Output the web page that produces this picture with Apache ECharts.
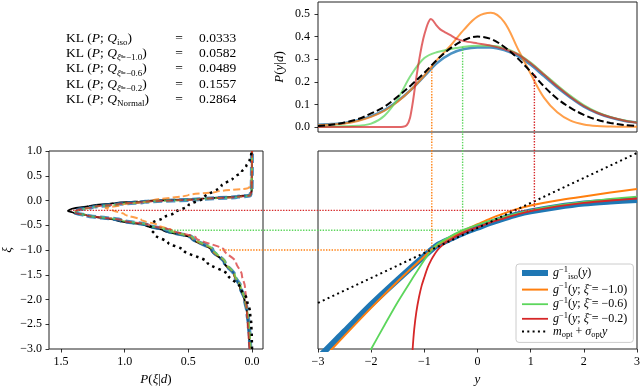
<!DOCTYPE html>
<html>
<head>
<meta charset="utf-8" />
<title>g inverse</title>
<script src="https://cdn.jsdelivr.net/npm/echarts@6/dist/echarts.min.js"></script>
<style>html,body{margin:0;padding:0;background:#fff;}</style>
</head>
<body>
<div id="main" style="width:640px;height:386px;"></div>
<script type="text/javascript">
// ---- top panel: P(y|d) ----
var yTop = [-3,-2.75,-2.5,-2.25,-2,-1.75,-1.5,-1.25,-1,-0.75,-0.5,-0.25,0,0.25,0.5,0.75,1,1.25,1.5,1.75,2,2.25,2.5,2.75,3];
var pIso = [0.010,0.013,0.018,0.030,0.048,0.075,0.115,0.165,0.225,0.285,0.325,0.345,0.352,0.352,0.340,0.315,0.275,0.225,0.175,0.130,0.090,0.062,0.042,0.028,0.020];
var pXi10 = [0.008,0.011,0.016,0.027,0.045,0.072,0.112,0.165,0.228,0.300,0.362,0.432,0.488,0.505,0.465,0.350,0.235,0.130,0.065,0.028,0.011,0.004,0.002,0.001,0.001];
var pXi06 = [0.001,0.002,0.003,0.006,0.015,0.050,0.125,0.230,0.305,0.332,0.345,0.355,0.360,0.360,0.350,0.325,0.285,0.235,0.185,0.138,0.097,0.066,0.045,0.030,0.020];
var pNormal = [0.005,0.010,0.020,0.035,0.060,0.090,0.135,0.185,0.240,0.300,0.350,0.385,0.400,0.390,0.355,0.305,0.245,0.180,0.125,0.085,0.054,0.032,0.018,0.009,0.005];
var yTopRed = [-3,-2,-1.5,-1.4,-1.33,-1.27,-1.21,-1.15,-1.08,-1.02,-0.96,-0.92,-0.88,-0.84,-0.78,-0.7,-0.6,-0.5,-0.39,-0.25,0,0.25,0.5,0.75,1,1.25,1.5,1.75,2,2.25,2.5,2.75,3];
var pXi02 = [0,0,0,0.001,0.008,0.04,0.12,0.22,0.32,0.39,0.44,0.465,0.478,0.472,0.452,0.432,0.418,0.405,0.39,0.38,0.37,0.36,0.345,0.322,0.282,0.232,0.18,0.133,0.093,0.063,0.043,0.029,0.019];

// ---- bottom right: g^-1(y) ----
var yIso = [-3.2,-3,-2.5,-2,-1.5,-1,-0.75,-0.5,-0.25,0,0.25,0.5,0.75,1,1.5,2,2.5,3];
var gIso = [-3.38,-3.18,-2.64,-2.1,-1.6,-1.12,-0.9,-0.77,-0.65,-0.55,-0.45,-0.36,-0.28,-0.22,-0.13,-0.06,-0.02,0.01];
var yG10 = [-3.1,-3,-2.5,-2,-1.5,-1,-0.75,-0.5,-0.25,0,0.25,0.5,0.75,1,1.5,2,2.5,3];
var gXi10 = [-3.42,-3.3,-2.73,-2.17,-1.63,-1.13,-0.9,-0.74,-0.6,-0.48,-0.36,-0.26,-0.17,-0.1,0.0,0.08,0.16,0.23];
var yG06 = [-2.2,-2,-1.75,-1.5,-1.25,-1,-0.86,-0.75,-0.5,-0.28,0,0.5,1,1.5,2,2.5,3];
var gXi06 = [-3.4,-3.0,-2.52,-2.05,-1.62,-1.2,-1.0,-0.88,-0.72,-0.6,-0.49,-0.33,-0.2,-0.1,-0.03,0.03,0.08];
var yG02 = [-1.235,-1.22,-1.19,-1.15,-1.1,-1.05,-1.0,-0.94,-0.87,-0.81,-0.75,-0.69,-0.6,-0.5,-0.4,-0.28,-0.1,0,0.25,0.5,0.75,1.07,1.5,2,2.5,3];
var gXi02 = [-3.3,-3.0,-2.6,-2.25,-1.95,-1.72,-1.55,-1.36,-1.2,-1.09,-1.0,-0.93,-0.85,-0.79,-0.72,-0.66,-0.58,-0.54,-0.44,-0.36,-0.28,-0.2,-0.12,-0.05,0.0,0.04];
var yLin = [-3, 3];
var gLin = [-2.07, 0.96];

// ---- bottom left: P(xi|d) ----
var xiTrue = [-3,-2.75,-2.5,-2.25,-2,-1.75,-1.5,-1.25,-1,-0.75,-0.6,-0.5,-0.4,-0.3,-0.25,-0.21,-0.17,-0.11,-0.05,-0.02,0.04,0.08,0.11,0.2,0.6,1.0];
var pTrue = [0.016,0.022,0.03,0.04,0.06,0.095,0.14,0.22,0.32,0.48,0.7,0.84,1.07,1.3,1.4,1.445,1.42,1.28,1.08,0.89,0.37,0.12,0.01,0.003,0.001,0];
var xiQ = [-3,-2.75,-2.5,-2.25,-2,-1.75,-1.5,-1.25,-1,-0.75,-0.6,-0.5,-0.4,-0.3,-0.26,-0.23,-0.19,-0.13,-0.07,-0.03,0.03,0.07,0.1,0.2,0.6,1.0];
var pQiso = [0.012,0.018,0.026,0.038,0.056,0.09,0.14,0.215,0.31,0.47,0.67,0.82,1.03,1.3,1.38,1.4,1.37,1.25,1.05,0.85,0.4,0.12,0.015,0.003,0.001,0];
var pQ06 = [0.01,0.016,0.024,0.036,0.055,0.088,0.135,0.21,0.3,0.46,0.66,0.81,1.02,1.3,1.37,1.39,1.36,1.24,1.04,0.84,0.4,0.12,0.015,0.003,0.001,0];
var pQ02 = [0.02,0.027,0.034,0.04,0.046,0.055,0.08,0.125,0.22,0.44,0.63,0.8,1.02,1.3,1.38,1.4,1.37,1.25,1.05,0.85,0.4,0.12,0.015,0.003,0.001,0];
var xiQ10 = [-3,-2.75,-2.5,-2.25,-2,-1.75,-1.5,-1.25,-1,-0.75,-0.6,-0.5,-0.39,-0.28,-0.19,-0.15,-0.09,0.0,0.11,0.18,0.25,0.3,0.6,1.0];
var pQ10 = [0.012,0.018,0.026,0.038,0.056,0.09,0.14,0.21,0.31,0.47,0.63,0.74,0.87,1.0,1.1,1.15,1.02,0.78,0.5,0.27,0.03,0.005,0.001,0];
var xiQn = [-3,-2.75,-2.5,-2.25,-2,-1.75,-1.5,-1.25,-1,-0.85,-0.7,-0.56,-0.45,-0.35,-0.25,-0.1,0.05,0.3,0.45,0.58,0.7,0.8,0.9,1.0];
var pQn = [0,0.002,0.006,0.016,0.04,0.095,0.19,0.35,0.54,0.66,0.76,0.8,0.78,0.7,0.61,0.5,0.38,0.24,0.15,0.08,0.045,0.02,0.008,0.002];

// KL table
var klSub = ['{s|iso}', '{si|ξ̄}{s|=−1.0}', '{si|ξ̄}{s|=−0.6}', '{si|ξ̄}{s|=−0.2}', '{s|Normal}'];
var klValues = ['0.0333', '0.0582', '0.0489', '0.1557', '0.2864'];

// dotted guides
var guideY = [-0.86, -0.28, 1.07];
var guideTopP = [0.27, 0.355, 0.235];
var guideXi = [-1.0, -0.6, -0.2];
var guideLeftP = [0.26, 0.67, 1.42];
var guideColors = ['#ff7f0e', '#5cd65c', '#d62728'];

var serif = '"Liberation Serif", "DejaVu Serif", serif';
var C = { blue: '#1f77b4', orange: '#ff7f0e', green: '#5cd65c', red: '#d62728' };

function pairs(xs, ys) { return xs.map(function (x, i) { return [x, ys[i]]; }); }
function minus(s) { return String(s).replace('-', '\u2212'); }

var mathRich = {
  i: { fontFamily: serif, fontStyle: 'italic', fontSize: 13, lineHeight: 16, color: '#000' },
  r: { fontFamily: serif, fontSize: 13, lineHeight: 16, color: '#000' }
};
var legRich = {
  i: { fontFamily: serif, fontStyle: 'italic', fontSize: 12, lineHeight: 16, color: '#000' },
  r: { fontFamily: serif, fontSize: 12, lineHeight: 16, color: '#000' },
  sup: { fontFamily: serif, fontSize: 8.5, lineHeight: 9, verticalAlign: 'top', color: '#000' },
  sub: { fontFamily: serif, fontSize: 8.5, lineHeight: 8, verticalAlign: 'bottom', color: '#000' }
};
var legendText = {
  gIso: '{i|g}{sup|−1}{sub|iso}{r|(}{i|y}{r|)}',
  g10: '{i|g}{sup|−1}{r|(}{i|y}{r|; }{i|ξ̄}{r| = −1.0)}',
  g06: '{i|g}{sup|−1}{r|(}{i|y}{r|; }{i|ξ̄}{r| = −0.6)}',
  g02: '{i|g}{sup|−1}{r|(}{i|y}{r|; }{i|ξ̄}{r| = −0.2)}',
  lin: '{i|m}{sub|opt}{r| + }{i|σ}{sub|opt}{i|y}'
};

var tickLabel = { fontFamily: serif, fontSize: 12, color: '#000' };
var tick = { show: true, length: 3.5, lineStyle: { color: '#000', width: 0.8 } };
var noLine = { show: false, onZero: false };
var base = { type: 'line', symbol: 'none', showSymbol: false, animation: false, silent: true };

function curve(opt) {
  var s = Object.assign({}, base, opt);
  s.itemStyle = { color: opt.lineStyle.color };
  s.color = opt.lineStyle.color;
  return s;
}

var kl = [];
klSub.forEach(function (sub, i) {
  var y = 38 + i * 15.4;
  kl.push({ type: 'text', id: 'kl' + i, x: 66, y: y, style: {
    text: '{r|KL (}{i|P}{r|; }{i|Q}' + sub + '{r|)}',
    verticalAlign: 'middle',
    rich: {
      r: { fontFamily: serif, fontSize: 13.5, lineHeight: 18 },
      i: { fontFamily: serif, fontSize: 13.5, fontStyle: 'italic', lineHeight: 18 },
      s: { fontFamily: serif, fontSize: 9, lineHeight: 9, verticalAlign: 'bottom' },
      si: { fontFamily: serif, fontSize: 9, fontStyle: 'italic', lineHeight: 9, verticalAlign: 'bottom' }
    }
  } });
  kl.push({ type: 'text', id: 'eq' + i, x: 179, y: y, style: { text: '=', font: '13.5px ' + serif, align: 'center', verticalAlign: 'middle' } });
  kl.push({ type: 'text', id: 'kv' + i, x: 199, y: y, style: { text: klValues[i], font: '13.5px ' + serif, verticalAlign: 'middle' } });
});

var chart = echarts.init(document.getElementById('main'));

var option = {
  backgroundColor: '#fff',
  animation: false,
  grid: [
    { left: 318, top: 2, width: 319, height: 130, show: true, borderColor: '#222', borderWidth: 1, outerBoundsMode: 'none' },
    { left: 318, top: 151, width: 319, height: 198, show: true, borderColor: '#222', borderWidth: 1, outerBoundsMode: 'none' },
    { left: 49, top: 151, width: 214, height: 198, show: true, borderColor: '#222', borderWidth: 1, outerBoundsMode: 'none' }
  ],
  xAxis: [
    { type: 'value', gridIndex: 0, min: -3, max: 3, axisLine: noLine, axisTick: { show: false }, axisLabel: { show: false }, splitLine: { show: false } },
    { type: 'value', gridIndex: 1, min: -3, max: 3, interval: 1, position: 'bottom', axisLine: noLine, axisTick: tick, splitLine: { show: false },
      axisLabel: Object.assign({ margin: 7, formatter: function (v) { return minus(v); } }, tickLabel),
      name: '{i|y}', nameLocation: 'middle', nameGap: 22, nameTextStyle: { rich: mathRich } },
    { type: 'value', gridIndex: 2, min: -0.086, max: 1.594, inverse: true, position: 'bottom', axisLine: noLine, splitLine: { show: false },
      axisTick: Object.assign({ customValues: [0, 0.5, 1, 1.5] }, tick),
      axisLabel: Object.assign({ margin: 7, customValues: [0, 0.5, 1, 1.5], formatter: function (v) { return v.toFixed(1); } }, tickLabel),
      name: '{i|P}{r|(}{i|ξ}{r||}{i|d}{r|)}', nameLocation: 'middle', nameGap: 22, nameTextStyle: { rich: mathRich } }
  ],
  yAxis: [
    { type: 'value', gridIndex: 0, min: -0.022, max: 0.553, position: 'left', axisLine: noLine, splitLine: { show: false },
      axisTick: Object.assign({ customValues: [0, 0.1, 0.2, 0.3, 0.4, 0.5] }, tick),
      axisLabel: Object.assign({ margin: 8, customValues: [0, 0.1, 0.2, 0.3, 0.4, 0.5], formatter: function (v) { return v.toFixed(1); } }, tickLabel),
      name: '{i|P}{r|(}{i|y}{r||}{i|d}{r|)}', nameLocation: 'middle', nameGap: 30, nameRotate: 90, nameTextStyle: { rich: mathRich } },
    { type: 'value', gridIndex: 1, min: -3, max: 1, axisLine: noLine, axisTick: { show: false }, axisLabel: { show: false }, splitLine: { show: false } },
    { type: 'value', gridIndex: 2, min: -3, max: 1, interval: 0.5, position: 'left', axisLine: noLine, splitLine: { show: false }, axisTick: tick,
      axisLabel: Object.assign({ margin: 7, formatter: function (v) { return minus(v.toFixed(1)); } }, tickLabel),
      name: '{i|ξ}', nameLocation: 'middle', nameGap: 33, nameRotate: 90, nameTextStyle: { rich: mathRich } }
  ],
  legend: {
    data: ['gIso', 'g10', 'g06', 'g02', 'lin'],
    orient: 'vertical', left: 516, top: 264,
    itemWidth: 26, itemHeight: 10, itemGap: 0.6,
    padding: [1, 6, 3, 3],
    backgroundColor: 'rgba(255,255,255,0.85)', borderColor: '#ccc', borderWidth: 1, borderRadius: 3,
    selectedMode: false,
    itemStyle: { opacity: 0 },
    lineStyle: { width: 'inherit', opacity: 1 },
    formatter: function (name) { return legendText[name]; },
    textStyle: { fontFamily: serif, fontSize: 12, color: '#000', rich: legRich }
  },
  graphic: kl,
  series: [
    // top
    curve({ xAxisIndex: 0, yAxisIndex: 0, data: pairs(yTop, pIso), smooth: 0.35, lineStyle: { color: C.blue, width: 2.5, opacity: 0.8 } }),
    curve({ xAxisIndex: 0, yAxisIndex: 0, data: pairs(yTop, pXi10), smooth: 0.35, lineStyle: { color: C.orange, width: 2, opacity: 0.75 } }),
    curve({ xAxisIndex: 0, yAxisIndex: 0, data: pairs(yTop, pXi06), smooth: 0.35, lineStyle: { color: C.green, width: 2, opacity: 0.75 } }),
    curve({ xAxisIndex: 0, yAxisIndex: 0, data: pairs(yTopRed, pXi02), smooth: 0.25, lineStyle: { color: C.red, width: 2, opacity: 0.7 } }),
    curve({ xAxisIndex: 0, yAxisIndex: 0, data: pairs(yTop, pNormal), smooth: 0.35, lineStyle: { color: '#000', width: 2, type: [7, 3.2] } }),
    // bottom right
    curve({ name: 'gIso', xAxisIndex: 1, yAxisIndex: 1, data: pairs(yIso, gIso), smooth: 0.3, lineStyle: { color: C.blue, width: 6 } }),
    curve({ name: 'g10', xAxisIndex: 1, yAxisIndex: 1, data: pairs(yG10, gXi10), smooth: 0.3, lineStyle: { color: C.orange, width: 2 } }),
    curve({ name: 'g06', xAxisIndex: 1, yAxisIndex: 1, data: pairs(yG06, gXi06), smooth: 0.3, lineStyle: { color: C.green, width: 1.8 } }),
    curve({ name: 'g02', xAxisIndex: 1, yAxisIndex: 1, data: pairs(yG02, gXi02), smooth: 0.25, lineStyle: { color: C.red, width: 1.8 } }),
    curve({ name: 'lin', xAxisIndex: 1, yAxisIndex: 1, data: pairs(yLin, gLin), lineStyle: { color: '#000', width: 2, type: [2, 3.3] } }),
    // bottom left
    curve({ xAxisIndex: 2, yAxisIndex: 2, data: pairs(pTrue, xiTrue), smooth: 0.3, smoothMonotone: 'y', lineStyle: { color: '#000', width: 2 } }),
    curve({ xAxisIndex: 2, yAxisIndex: 2, data: pairs(pQiso, xiQ), smooth: 0.3, smoothMonotone: 'y', lineStyle: { color: C.blue, width: 4, type: [9, 4], opacity: 0.8 } }),
    curve({ xAxisIndex: 2, yAxisIndex: 2, data: pairs(pQ10, xiQ10), smooth: 0.3, smoothMonotone: 'y', lineStyle: { color: C.orange, width: 2, type: [7, 3.2], opacity: 0.75 } }),
    curve({ xAxisIndex: 2, yAxisIndex: 2, data: pairs(pQ06, xiQ), smooth: 0.3, smoothMonotone: 'y', lineStyle: { color: C.green, width: 2, type: [7, 3.2], opacity: 0.75 } }),
    curve({ xAxisIndex: 2, yAxisIndex: 2, data: pairs(pQ02, xiQ), smooth: 0.3, smoothMonotone: 'y', lineStyle: { color: C.red, width: 2, type: [7, 3.2], opacity: 0.7 } }),
    curve({ xAxisIndex: 2, yAxisIndex: 2, data: pairs(pQn, xiQn), smooth: 0.3, smoothMonotone: 'y', lineStyle: { color: '#000', width: 2.5, type: [2.5, 4] } })
  ]
};

chart.setOption(option);

// guide lines go across panels, so place them from each grid's own scale
var guides = guideY.map(function (gy, i) {
  var a = chart.convertToPixel({ gridIndex: 0 }, [gy, guideTopP[i]]);
  var b = chart.convertToPixel({ gridIndex: 1 }, [gy, guideXi[i]]);
  var c = chart.convertToPixel({ gridIndex: 2 }, [guideLeftP[i], guideXi[i]]);
  return { type: 'polyline', id: 'guide' + i, z: 5, silent: true,
    shape: { points: [a, b, c] },
    style: { stroke: guideColors[i], lineWidth: 1.4, lineDash: [1.4, 1.4], fill: null } };
});
chart.setOption({ graphic: guides });
</script>
</body>
</html>
